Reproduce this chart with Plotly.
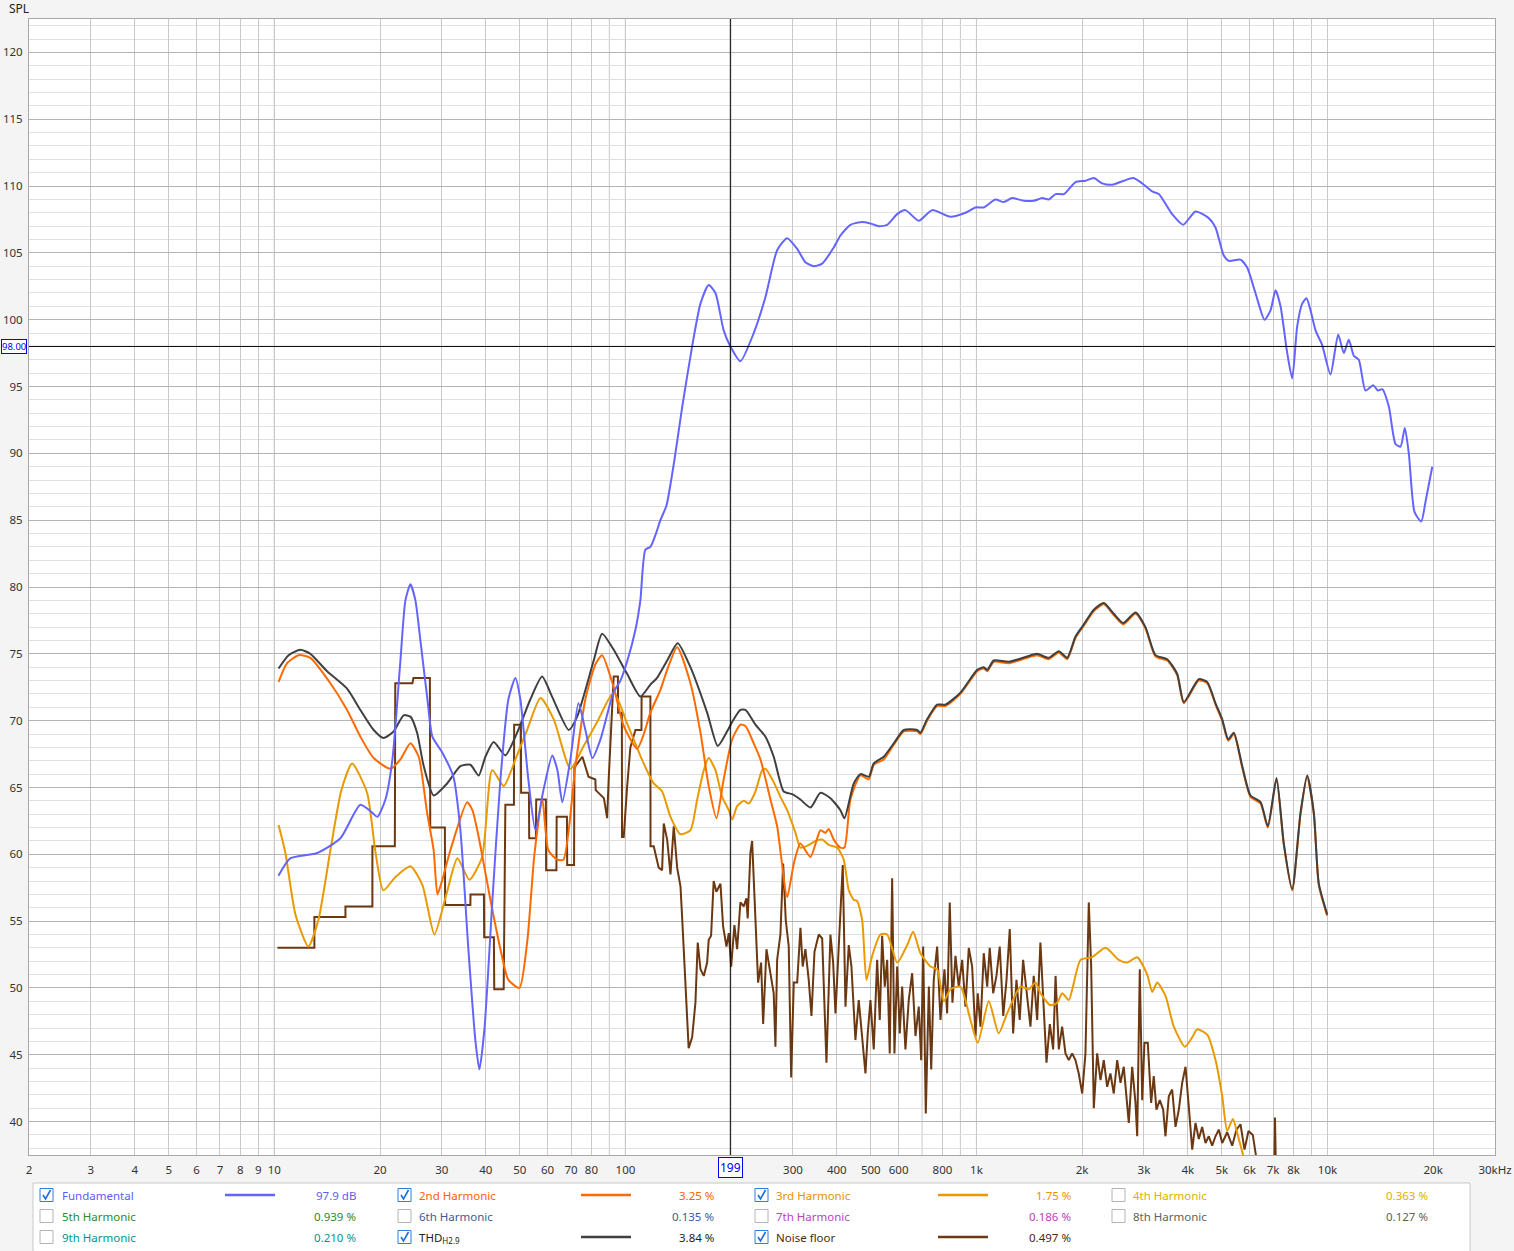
import math
import plotly.graph_objects as go

# ---------------- data ----------------
F_FUND = [10.27, 11.1, 13.26, 15.42, 17.58, 19.02, 19.65, 20.72, 21.69, 22.86, 23.62, 24.41, 25.22, 26.06, 27.29,
          28.19, 30.1, 32.36, 33.88, 35.7, 37.37, 38.37, 39.66, 41.8, 44.05, 46.42, 48.6, 50.2, 52.9, 55.4, 58.4,
          61.9, 64.0, 66.1, 69.7, 73.5, 76.9, 80.5, 84.9, 92.4, 96.8, 101.3, 106.8, 110.3, 114.0, 117.8, 121.8,
          125.8, 130.9, 137.9, 145.0, 154.9, 163.6, 172.7, 180.5, 190.5, 199.1, 212.6, 232.0, 250.6, 270.5, 288.9,
          308.5, 325.7, 344.0, 363.5, 392.1, 409.7, 437.5, 467.2, 498.9, 526.8, 556.6, 594.5, 627.7, 684.9, 747.8,
          843.4, 930.4, 993.6, 1049, 1133, 1196, 1264, 1364, 1456, 1539, 1607, 1680, 1774, 1915, 2045, 2159, 2281,
          2436, 2628, 2795, 2933, 3167, 3307, 3610, 3880, 4207, 4589, 4797, 5065, 5234, 5651, 5905, 6234, 6615,
          6881, 7111, 7348, 7678, 7933, 8197, 8470, 8714, 8946, 9244, 9658, 10197, 10727, 11127, 11499, 11882,
          12279, 12831, 13498, 13911, 14317, 14950, 15621, 16144, 16604, 17045, 17699, 18493, 19025, 19878]
DB_FUND = [58.4, 59.7, 60.1, 61.2, 63.7, 63.1, 62.8, 64.1, 67.1, 74.5, 79.0, 80.2, 79.0, 76.0, 71.6, 68.8, 67.6,
           65.8, 61.8, 52.9, 46.1, 43.9, 46.9, 56.6, 65.6, 71.6, 73.2, 71.6, 65.6, 61.8, 64.8, 67.4, 66.3, 63.9,
           67.1, 71.3, 69.3, 67.2, 68.6, 72.1, 73.0, 74.5, 76.8, 79.0, 82.8, 83.0, 83.9, 85.0, 86.1, 89.5, 93.4,
           98.0, 101.2, 102.6, 102.0, 99.2, 98.0, 96.9, 99.0, 101.7, 105.2, 106.1, 105.3, 104.3, 104.0, 104.2,
           105.4, 106.3, 107.1, 107.3, 107.2, 107.0, 107.1, 107.9, 108.2, 107.4, 108.2, 107.7, 108.0, 108.4, 108.4,
           109.0, 108.8, 109.1, 108.9, 108.9, 109.1, 109.0, 109.4, 109.4, 110.3, 110.4, 110.6, 110.2, 110.1, 110.4,
           110.6, 110.3, 109.6, 109.4, 107.9, 107.1, 108.1, 107.6, 106.9, 104.8, 104.4, 104.5, 103.9, 102.0, 100.0,
           100.7, 102.2, 101.0, 97.5, 95.6, 99.5, 101.2, 101.6, 100.7, 99.2, 98.1, 95.9, 98.9, 97.5, 98.5, 97.3,
           97.0, 94.7, 95.1, 94.7, 94.8, 93.5, 90.7, 90.5, 91.9, 90.0, 85.6, 84.9, 86.4, 89.0]

F_THD = [10.28, 10.98, 11.86, 12.66, 14.13, 16.11, 17.58, 19.18, 20.48, 21.87, 23.35, 24.41, 25.5, 26.63, 28.43,
         31.05, 33.88, 36.17, 38.19, 39.92, 42.15, 45.5, 49.15, 53.62, 57.9, 61.8, 68.96, 72.86, 81.22, 85.82, 92.6,
         101.1, 110.3, 117.8, 123.1, 131.5, 140.9, 153.2, 170.9, 183.2, 194.9, 201.4, 212.6, 219.8, 234.7, 250.6,
         264.5, 282.5, 298.5, 315.1, 336.6, 359.4, 383.7, 409.7, 420.7, 447.1, 467.2, 493.4, 509.8, 544.5, 581.4,
         620.8, 677.7, 692.5, 723.5, 772.7, 815.9, 900.4, 1005, 1049, 1073, 1120, 1236, 1394, 1489, 1607, 1716,
         1813, 1915, 2022, 2159, 2305, 2461, 2618, 2838, 3030, 3236, 3494, 3731, 3896, 4298, 4543, 4797, 5012,
         5213, 5409, 5715, 6034, 6445, 6760, 7157, 7508, 7933, 8377, 8752, 9141, 9445, 9980]
DB_THD = [73.9, 74.9, 75.3, 75.0, 73.7, 72.4, 70.8, 69.3, 68.7, 69.2, 70.4, 70.3, 69.1, 66.6, 64.4, 65.3, 66.6,
          66.7, 65.9, 67.3, 68.4, 67.4, 69.1, 71.6, 73.3, 71.8, 69.3, 70.3, 74.5, 76.5, 75.3, 73.5, 71.8, 72.7,
          73.2, 74.5, 75.8, 74.0, 70.6, 68.1, 69.2, 69.9, 70.8, 70.8, 69.7, 68.8, 67.3, 64.7, 64.5, 64.1, 63.5,
          64.6, 64.2, 63.3, 62.7, 65.3, 66.0, 65.8, 66.8, 67.3, 68.3, 69.3, 69.3, 69.1, 70.1, 71.2, 71.2, 72.1,
          73.8, 74.0, 73.8, 74.5, 74.4, 74.8, 75.0, 74.7, 75.2, 74.7, 76.3, 77.2, 78.3, 78.8, 78.0, 77.3, 78.1,
          77.0, 74.9, 74.6, 73.5, 71.4, 73.1, 72.9, 71.3, 70.1, 68.6, 69.1, 66.6, 64.4, 63.9, 62.1, 65.7, 60.8,
          57.4, 63.1, 65.9, 63.1, 57.8, 55.5]

F_H2 = [10.28, 10.87, 11.73, 12.66, 14.44, 16.11, 17.58, 19.18, 21.41, 22.86, 24.41, 25.77, 27.23, 28.43, 29.14,
        30.1, 31.72, 35.4, 36.65, 38.19, 41.25, 44.05, 46.42, 49.89, 52.58, 55.05, 58.0, 60.33, 63.9, 66.6, 72.03,
        76.9, 82.1, 85.82, 92.6, 98.9, 108.0, 112.5, 117.8, 125.8, 131.5, 140.4, 153.2, 163.6, 172.7, 181.7, 190.5,
        201.4, 212.6, 219.8, 232.0, 242.5, 258.9, 270.5, 288.9, 301.7, 315.1, 336.6, 359.4, 371.4, 379.5, 392.1,
        409.7, 420.7, 437.5, 467.2, 493.4, 509.8, 544.5, 581.4, 620.8, 677.7, 692.5, 723.5, 772.7, 815.9, 900.4,
        1005, 1049, 1073, 1120, 1236, 1394, 1489, 1607, 1716, 1813, 1915, 2022, 2159, 2305, 2461, 2618, 2838,
        3030, 3236, 3494, 3731, 3896, 4298, 4543, 4797, 5012, 5213, 5409, 5715, 6034, 6445, 6760, 7157, 7508,
        7933, 8377, 8752, 9141, 9445, 9980]
DB_H2 = [72.9, 74.3, 74.9, 74.7, 72.8, 70.8, 68.8, 67.2, 66.4, 67.1, 68.3, 67.3, 63.1, 60.3, 57.0, 58.1, 60.3,
         63.9, 63.3, 61.3, 56.6, 52.9, 50.6, 50.0, 53.6, 60.0, 64.1, 60.3, 59.6, 59.6, 66.6, 71.6, 74.2, 74.9,
         72.5, 69.6, 67.9, 68.9, 70.6, 72.3, 73.8, 75.5, 72.8, 69.1, 65.1, 62.7, 65.6, 68.6, 69.7, 69.6, 68.3,
         67.1, 64.1, 62.1, 56.8, 59.3, 60.8, 59.8, 61.8, 61.6, 61.9, 61.1, 60.5, 60.5, 64.1, 65.9, 65.6, 66.7,
         67.1, 68.2, 69.2, 69.2, 69.0, 70.0, 71.1, 71.1, 72.0, 73.7, 73.9, 73.7, 74.4, 74.3, 74.7, 74.9, 74.6,
         75.1, 74.6, 76.2, 77.1, 78.2, 78.7, 77.9, 77.2, 78.0, 76.9, 74.8, 74.5, 73.4, 71.3, 73.0, 72.8, 71.2,
         70.0, 68.5, 69.0, 66.5, 64.3, 63.8, 62.0, 65.6, 60.7, 57.3, 63.0, 65.8, 63.0, 57.7, 55.4]

F_H3 = [10.28, 10.75, 11.48, 12.5, 13.35, 14.44, 15.52, 16.65, 18.37, 19.4, 20.44, 22.12, 24.41, 26.41, 28.57,
        30.9, 33.22, 35.94, 39.06, 41.72, 45.02, 48.6, 52.48, 57.27, 62.5, 69.7, 76.05, 83.07, 92.6, 101.1, 112.7,
        120.4, 127.2, 134.4, 143.5, 153.2, 160.1, 167.2, 172.7, 180.5, 188.6, 197.0, 201.4, 208.1, 217.3, 224.5,
        234.7, 245.2, 250.6, 264.5, 276.4, 288.9, 305.1, 315.1, 332.9, 347.8, 363.5, 379.5, 401.1, 418.7, 432.7,
        447.1, 457.2, 472.4, 486.0, 504.5, 532.7, 556.6, 594.5, 634.8, 660.2, 692.5, 739.6, 772.7, 806.9, 843.4,
        900.4, 961.4, 1009, 1084, 1157, 1223, 1335, 1409, 1473, 1522, 1625, 1698, 1755, 1832, 1979, 2136, 2331,
        2544, 2687, 2870, 3064, 3167, 3272, 3456, 3649, 3923, 4117, 4253, 4543, 4797, 5012, 5179, 5374, 5589, 5840]
DB_H3 = [62.2, 60.1, 55.5, 53.1, 55.1, 60.3, 64.8, 66.8, 64.6, 60.2, 57.3, 58.3, 59.1, 57.7, 54.0, 57.0, 59.7,
         58.1, 59.8, 66.3, 65.1, 67.1, 69.3, 71.7, 70.1, 66.4, 68.1, 69.9, 72.1, 69.8, 66.8, 65.3, 64.7, 62.8,
         61.5, 61.8, 64.1, 66.3, 67.2, 66.3, 64.3, 63.3, 62.6, 63.6, 64.0, 63.8, 64.7, 66.3, 66.4, 65.4, 64.3,
         63.3, 61.6, 60.5, 60.7, 61.0, 61.1, 60.7, 60.5, 59.6, 57.3, 56.6, 56.5, 55.1, 50.6, 52.4, 54.0, 54.0,
         51.9, 53.2, 54.2, 52.6, 51.6, 51.4, 49.0, 49.9, 50.1, 47.6, 45.9, 49.0, 46.6, 48.1, 50.1, 49.9, 50.4,
         49.6, 48.7, 48.9, 49.6, 49.1, 52.1, 52.3, 53.0, 52.1, 51.9, 52.3, 51.0, 49.7, 50.4, 49.4, 47.1, 45.6,
         46.3, 46.9, 46.5, 44.6, 41.9, 39.3, 40.2, 38.7, 36.8]

NOISE = [(10.2, 53.0), (13.0, 53.0), (13.0, 55.3), (15.94, 55.3), (15.94, 56.1), (19.02, 56.1), (19.02, 60.6),
         (22.04, 60.6), (22.1, 72.8), (24.73, 72.8), (24.9, 73.2), (27.73, 73.2), (27.8, 62.0), (30.6, 62.0),
         (30.65, 56.2), (36.17, 56.2), (36.2, 57.0), (39.53, 57.0), (39.6, 53.8), (42.2, 53.8), (42.3, 49.9),
         (45.0, 49.9), (45.5, 63.7), (48.13, 63.7), (48.2, 69.7), (50.38, 69.7), (50.45, 64.6), (53.1, 64.6),
         (53.2, 61.2), (55.59, 61.2), (55.7, 64.1), (59.36, 64.1), (59.45, 58.8), (63.6, 58.8), (63.7, 62.8),
         (68.14, 62.8), (68.25, 59.2), (71.4, 59.2), (71.55, 66.5), (75.42, 67.3), (78.5, 65.8), (82.1, 65.6),
         (82.3, 64.8), (86.84, 64.2), (88.7, 62.7), (89.6, 65.6), (92.6, 73.3), (95.2, 73.3), (95.3, 70.6),
         (97.7, 70.6), (97.8, 61.3), (98.9, 61.3), (101.1, 65.0), (103.3, 68.0), (106.8, 69.3), (111.1, 69.3),
         (111.2, 71.8), (117.8, 71.8), (117.9, 60.6), (119.2, 60.6),
         (120.4, 60.6), (124.4, 59.0), (127.2, 58.8), (128.6, 62.3), (131.5, 61.1), (134.4, 58.5), (137.3, 62.1),
         (140.4, 59.0), (143.5, 57.6), (145.0, 55.4), (148.2, 50.9), (151.4, 45.5), (154.9, 46.3), (158.3, 48.9),
         (160.7, 53.4), (163.6, 51.4), (167.2, 50.9), (170.9, 51.9), (172.7, 53.6), (175.4, 53.9), (178.4, 58.0),
         (181.6, 57.2), (186.5, 57.8), (189.8, 54.6), (194.0, 53.1), (197.0, 54.1), (200.1, 51.6), (204.4, 54.7),
         (208.1, 52.9), (212.6, 56.4), (217.3, 56.1), (221.1, 56.7), (223.0, 55.2), (227.0, 60.1), (229.6, 61.0),
         (234.6, 54.6), (238.8, 50.4), (243.5, 51.9), (246.8, 47.3), (252.2, 52.9), (258.9, 50.9), (264.5, 49.6),
         (267.5, 45.6), (270.5, 52.1), (276.4, 54.0), (281.4, 59.3), (286.2, 55.1), (291.9, 53.1), (296.6, 43.3),
         (301.7, 50.4), (308.5, 50.4), (315.2, 54.5), (319.9, 51.6), (325.6, 52.9), (332.8, 50.6), (338.8, 47.9),
         (345.6, 52.7), (355.4, 54.0), (363.5, 53.7), (373.8, 44.4), (383.7, 54.0), (390.6, 51.9), (396.6, 48.1),
         (403.6, 52.1), (409.7, 55.6), (416.0, 59.2), (423.5, 48.6), (432.7, 53.2), (440.4, 51.6), (452.1, 46.1),
         (462.0, 49.1), (472.4, 46.4), (482.8, 43.6), (490.1, 46.6), (498.9, 49.1), (509.8, 45.4), (521.3, 52.1),
         (530.3, 47.6), (538.7, 53.9), (548.0, 50.1), (556.7, 52.1), (566.2, 45.1), (575.2, 58.2), (583.9, 45.1),
         (594.4, 51.6), (604.6, 46.6), (614.2, 50.1), (627.6, 45.4), (641.4, 49.1), (655.9, 51.1), (670.3, 46.4),
         (684.9, 48.6), (695.9, 44.6), (705.0, 53.1), (717.2, 40.6), (731.7, 50.1), (743.2, 43.9), (755.6, 50.6),
         (772.7, 53.1), (789.6, 47.6), (810.6, 51.4), (825.1, 48.1), (839.3, 56.4), (854.3, 48.9), (871.3, 52.4),
         (890.3, 50.1), (910.4, 52.1), (930.4, 48.6), (950.9, 53.0), (972.1, 51.6), (993.6, 46.4), (1008.5, 49.6),
         (1026.6, 47.1), (1049, 52.6), (1073, 50.1), (1091, 53.0), (1116, 49.6), (1140, 50.9), (1165, 53.1),
         (1192, 47.9), (1218, 50.6), (1244, 54.4), (1272, 46.6), (1300, 50.6), (1328, 47.6), (1358, 52.1),
         (1394, 49.1), (1425, 47.1), (1456, 50.9), (1489, 47.6), (1521, 53.4), (1555, 48.6), (1583, 44.4),
         (1618, 47.3), (1654, 45.4), (1680, 50.9), (1716, 45.4), (1754, 47.1), (1793, 45.1), (1832, 44.6),
         (1873, 45.1), (1914, 44.6), (1956, 43.6), (2001, 42.1), (2044, 45.1), (2089, 56.4), (2122, 51.6),
         (2159, 41.0), (2207, 45.1), (2256, 43.1), (2305, 44.6), (2357, 42.6), (2408, 43.6), (2461, 42.1),
         (2517, 44.6), (2572, 42.9), (2628, 44.1), (2716, 39.9), (2777, 44.1), (2838, 41.4), (2870, 38.9),
         (2919, 51.4), (2966, 41.6), (3010, 45.9), (3076, 45.9), (3145, 41.4), (3199, 43.4), (3256, 40.9),
         (3328, 41.6), (3403, 40.9), (3455, 38.9), (3531, 41.9), (3610, 42.4), (3690, 39.6), (3771, 40.9),
         (3855, 42.9), (3940, 44.1), (4026, 41.1), (4117, 37.9), (4207, 39.9), (4299, 38.7), (4395, 39.6),
         (4492, 38.4), (4590, 38.9), (4693, 38.2), (4796, 38.9), (4901, 39.4), (5012, 38.4), (5179, 39.2),
         (5352, 38.2), (5505, 39.4), (5651, 39.8), (5801, 37.9), (5955, 39.3), (6126, 39.0), (6276, 37.2),
         (6400, 36.0), (7050, 36.0), (7086, 40.3), (7133, 36.0)]
F_NOISE = [p[0] for p in NOISE]
DB_NOISE = [p[1] for p in NOISE]

CURSOR_FREQ = 199
CURSOR_DB = 98.00

X_MIN, X_MAX = 2, 30000
Y_MIN, Y_MAX = 37.5, 122.5
X_LABELS = {2: "2", 3: "3", 4: "4", 5: "5", 6: "6", 7: "7", 8: "8", 9: "9", 10: "10", 20: "20", 30: "30",
            40: "40", 50: "50", 60: "60", 70: "70", 80: "80", 100: "100", 300: "300", 400: "400", 500: "500",
            600: "600", 800: "800", 1000: "1k", 2000: "2k", 3000: "3k", 4000: "4k", 5000: "5k", 6000: "6k",
            7000: "7k", 8000: "8k", 10000: "10k", 20000: "20k", 30000: "30kHz"}
Y_TICKS = list(range(40, 121, 5))

LEG_NAMES = ["Fundamental", "2nd Harmonic", "3rd Harmonic", "4th Harmonic",
             "5th Harmonic", "6th Harmonic", "7th Harmonic", "8th Harmonic",
             "9th Harmonic", "THD<sub>H2.9</sub>", "Noise floor"]
LEG_VALUES = ["97.9 dB", "3.25 %", "1.75 %", "0.363 %",
              "0.939 %", "0.135 %", "0.186 %", "0.127 %",
              "0.210 %", "3.84 %", "0.497 %"]
LEG_CHECKED = [True, True, True, False, False, False, False, False, False, True, True]
LEG_TEXT_COLORS = ["#5c5cff", "#ff6000", "#e69200", "#e0b000",
                   "#2b8a2b", "#3c5a9a", "#c040c0", "#606060",
                   "#00968a", "#222222", "#4a2a0e"]
LEG_LINE_COLORS = ["#6464ff", "#ff6a00", "#e89a00", None, None, None, None, None, None, "#404040", "#6b3812"]

# ---------------- layout helpers ----------------
W, H = 1514, 1251
ML, MR, MT, MB = 29, 19, 19, 96
PW = W - ML - MR
PH = H - MT - MB
FONT = "Noto Sans"


def px(x):
    return (x - ML) / PW


def py(y):
    return (H - MB - y) / PH


def fx(freq):
    return (math.log10(freq) - math.log10(X_MIN)) / (math.log10(X_MAX) - math.log10(X_MIN))


fig = go.Figure()

fig.add_trace(go.Scatter(x=F_NOISE, y=DB_NOISE, mode="lines", line=dict(color="#6b3812", width=2),
                         name="Noise floor"))
fig.add_trace(go.Scatter(x=F_H3, y=DB_H3, mode="lines", line=dict(color="#e89a00", width=2, shape="spline",
                                                                 smoothing=0.6), name="3rd Harmonic"))
fig.add_trace(go.Scatter(x=F_H2, y=DB_H2, mode="lines", line=dict(color="#ff6a00", width=2, shape="spline",
                                                                 smoothing=0.6), name="2nd Harmonic"))
fig.add_trace(go.Scatter(x=F_THD, y=DB_THD, mode="lines", line=dict(color="#404040", width=2, shape="spline",
                                                                   smoothing=0.6), name="THD"))
fig.add_trace(go.Scatter(x=F_FUND, y=DB_FUND, mode="lines", line=dict(color="#6464ff", width=2, shape="spline",
                                                                     smoothing=0.6), name="Fundamental"))

all_grid = [m * 10 ** e for e in range(0, 5) for m in range(1, 10) if X_MIN <= m * 10 ** e <= X_MAX]
x_tickvals = [v for v in all_grid if v in X_LABELS]
x_ticktext = [X_LABELS[v] for v in x_tickvals]
unlabeled_grid = [v for v in all_grid if v not in X_LABELS]

shapes = []
# gridlines at unlabeled frequencies
for g in unlabeled_grid:
    shapes.append(dict(type="line", xref="paper", yref="paper", x0=fx(g), x1=fx(g), y0=0, y1=1,
                       line=dict(color="#c8c8c8", width=1), layer="below"))
# decade lines (darker)
for d in [10, 100, 1000, 10000]:
    shapes.append(dict(type="line", xref="paper", yref="paper", x0=fx(d), x1=fx(d), y0=0, y1=1,
                       line=dict(color="#8c8c8c", width=1), layer="below"))
# cursor crosshair
shapes.append(dict(type="line", xref="paper", yref="paper", x0=fx(CURSOR_FREQ), x1=fx(CURSOR_FREQ), y0=0, y1=1,
                   line=dict(color="#000000", width=1)))
shapes.append(dict(type="line", xref="paper", yref="y", x0=0, x1=1, y0=CURSOR_DB, y1=CURSOR_DB,
                   line=dict(color="#000000", width=1)))
# legend panel
shapes.append(dict(type="rect", xref="paper", yref="paper", x0=px(33), x1=px(1470), y0=py(1183), y1=py(1265),
                   fillcolor="#ffffff", line=dict(color="#c8c8c8", width=1)))

annotations = []
annotations.append(dict(text="SPL", xref="paper", yref="paper", x=px(7), y=py(9), xanchor="left",
                        yanchor="middle", showarrow=False, font=dict(family=FONT, size=12, color="#222222")))
annotations.append(dict(text="199", xref="paper", yref="paper", x=fx(CURSOR_FREQ), y=py(1167), xanchor="center",
                        yanchor="middle", showarrow=False, bgcolor="#ffffff", bordercolor="#0000ff",
                        borderwidth=1, borderpad=1, font=dict(family=FONT, size=12, color="#0000ff")))
annotations.append(dict(text="98.00", xref="paper", yref="y", x=px(27), y=CURSOR_DB, xanchor="right",
                        yanchor="middle", showarrow=False, bgcolor="#ffffff", bordercolor="#0000ff",
                        borderwidth=1, borderpad=0, font=dict(family=FONT, size=9.5, color="#0000ff")))

ROW_Y = [1195, 1216, 1237]
CB_X = [40, 398, 755, 1112]
LABEL_X = [60, 417, 774, 1131]
LINE_X = [(225, 275), (581, 631), (938, 988), None]
VAL_X = [358, 716, 1073, 1430]
CB = 13
for i, name in enumerate(LEG_NAMES):
    r, c = divmod(i, 4)
    cy = ROW_Y[r]
    x0 = CB_X[c]
    checked = LEG_CHECKED[i]
    shapes.append(dict(type="rect", xref="paper", yref="paper", x0=px(x0), x1=px(x0 + CB),
                       y0=py(cy - CB / 2), y1=py(cy + CB / 2), fillcolor="#ffffff",
                       line=dict(color="#2f7fdc" if checked else "#b4b4b4", width=1)))
    if checked:
        path = "M {:.5f},{:.5f} L {:.5f},{:.5f} L {:.5f},{:.5f}".format(
            px(x0 + 3), py(cy), px(x0 + 5.5), py(cy + 4), px(x0 + 10.5), py(cy - 5))
        shapes.append(dict(type="path", xref="paper", yref="paper", path=path,
                           line=dict(color="#1a6fd8", width=1.6)))
        lx = LINE_X[c]
        if lx is not None and LEG_LINE_COLORS[i]:
            shapes.append(dict(type="line", xref="paper", yref="paper", x0=px(lx[0]), x1=px(lx[1]),
                               y0=py(cy), y1=py(cy), line=dict(color=LEG_LINE_COLORS[i], width=2.5)))
    annotations.append(dict(text=name, xref="paper", yref="paper", x=px(LABEL_X[c]), y=py(cy + 0.5),
                            xanchor="left", yanchor="middle", showarrow=False,
                            font=dict(family=FONT, size=11.5, color=LEG_TEXT_COLORS[i])))
    annotations.append(dict(text=LEG_VALUES[i], xref="paper", yref="paper", x=px(VAL_X[c]), y=py(cy + 0.5),
                            xanchor="right", yanchor="middle", showarrow=False,
                            font=dict(family=FONT, size=11.5, color=LEG_TEXT_COLORS[i])))

fig.update_layout(
    width=W, height=H,
    margin=dict(l=ML, r=MR, t=MT, b=MB, pad=0, autoexpand=False),
    paper_bgcolor="#f4f4f4",
    plot_bgcolor="#ffffff",
    showlegend=False,
    font=dict(family=FONT, size=12, color="#333333"),
    shapes=shapes,
    annotations=annotations,
    xaxis=dict(type="log", range=[math.log10(X_MIN), math.log10(X_MAX)], tickvals=x_tickvals,
               ticktext=x_ticktext, showgrid=True, gridcolor="#c8c8c8", gridwidth=1, zeroline=False,
               showline=True, linecolor="#a8a8a8", mirror=True, ticks="", ticklabelstandoff=4,
               automargin=False,
               tickfont=dict(family=FONT, size=11.5, color="#333333"), fixedrange=True),
    yaxis=dict(range=[Y_MIN, Y_MAX], tickvals=Y_TICKS, showgrid=True, gridcolor="#b4b4b4", gridwidth=1,
               zeroline=False, showline=True, linecolor="#a8a8a8", mirror=True, ticks="",
               ticklabelstandoff=3, automargin=False,
               minor=dict(dtick=1, tick0=0, showgrid=True, gridcolor="#e0e0e0", gridwidth=1),
               tickfont=dict(family=FONT, size=11.5, color="#333333"), fixedrange=True),
)

fig.write_html("out.html", config={"displayModeBar": False},
               post_script="document.body.style.margin='0';document.body.style.padding='0';")
